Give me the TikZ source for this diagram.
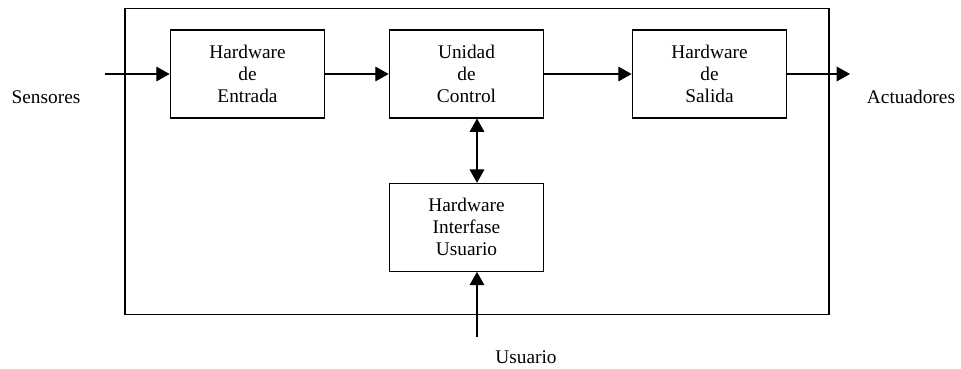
\documentclass[tikz,border=0pt]{standalone}
\usepackage{fontspec}
\setmainfont{Liberation Serif}
\usetikzlibrary{arrows.meta,positioning}

\tikzset{
  bloque/.style={draw,line width=0.8pt,minimum width=116pt,minimum height=66pt,
    inner sep=0pt,align=center,font=\fontsize{14.5}{16.5}\selectfont},
  etiqueta/.style={inner sep=0pt,font=\fontsize{14.5}{16.5}\selectfont},
  flecha/.style={line width=0.8pt,-{Triangle[length=10pt,width=11pt]}},
}

\begin{document}
\begin{tikzpicture}[x=0.75pt,y=-0.75pt,node distance=115pt,on grid]
\useasboundingbox (0,0) rectangle (961,368);
% marco del sistema
\node[draw,line width=0.8pt,minimum width=528pt,minimum height=230pt,inner sep=0pt](marco) at (477,161.5) {};
\node[bloque](ent) at (247.5,74) {Hardware\\de\\Entrada};
\node[bloque](ctrl) at (466.5,74) {Unidad\\de\\Control};
\node[bloque](sal) at (709.5,74) {Hardware\\de\\Salida};
\node[bloque](hiu)[below=of ctrl] {Hardware\\Interfase\\Usuario};
\node[etiqueta](sens) at (46,97) {Sensores};
\node[etiqueta](act) at (911,97) {Actuadores};
\node[etiqueta](usu) at (526,357) {Usuario};
\coordinate (in) at (105,74);
\coordinate (out) at (850,74);
\coordinate (usr) at (477,337);
\draw[flecha] (in) -- (ent);
\draw[flecha] (ent) -- (ctrl);
\draw[flecha] (ctrl) -- (sal);
\draw[flecha] (sal.east) -- (out);
\draw[flecha,{Triangle[length=10pt,width=11pt]}-{Triangle[length=10pt,width=11pt]}] (ctrl.south -| usr) -- (hiu.north -| usr);
\draw[flecha] (usr) -- (hiu.south -| usr);
\end{tikzpicture}
\end{document}
